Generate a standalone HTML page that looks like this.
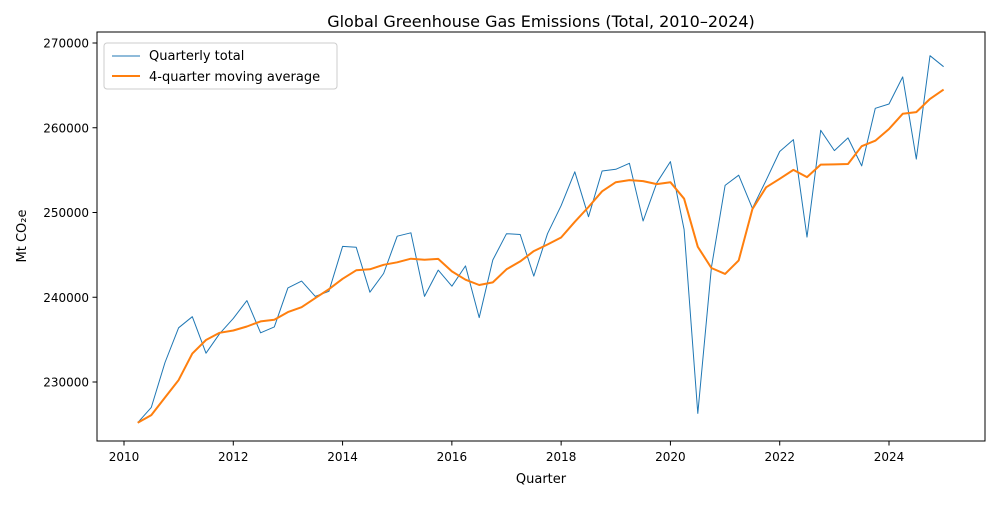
<!DOCTYPE html>
<html><head><meta charset="utf-8">
<style>
body{margin:0;background:#fff;}
svg text{font-family:"DejaVu Sans","Liberation Sans",sans-serif;fill:#000;}
</style></head>
<body>
<svg id="chart" width="1000" height="500" xmlns="http://www.w3.org/2000/svg">
<rect x="0" y="0" width="1000" height="500" fill="#fff"/>
<text x="541" y="27" font-size="16" text-anchor="middle">Global Greenhouse Gas Emissions (Total, 2010–2024)</text>
<g id="xticks"></g>
<g id="yticks"></g>
<g id="series"></g>
<rect x="97" y="32" width="888" height="409" fill="none" stroke="#000" stroke-width="1"/>
<text x="541" y="483" font-size="13" text-anchor="middle">Quarter</text>
<text x="26" y="236" font-size="13" text-anchor="middle" transform="rotate(-90 26 236)">Mt CO₂e</text>
<g>
<rect x="104" y="43" width="233" height="46" rx="3" fill="#fff" fill-opacity="0.8" stroke="#ccc"/>
<g>
<line x1="112" y1="56" x2="140" y2="56" stroke="#1f77b4" stroke-width="1"/>
<text x="149" y="60" font-size="13">Quarterly total</text></g>
<g>
<line x1="112" y1="76" x2="140" y2="76" stroke="#ff7f0e" stroke-width="2"/>
<text x="149" y="81" font-size="13">4-quarter moving average</text></g>
</g>
</svg>
<script>
const startYear = 2010.25;
const quarterly = [225200,227000,232300,236400,237700,233400,235700,237500,239600,235800,236500,241100,241900,240100,240700,246000,245900,240600,242800,247200,247600,240100,243200,241300,243700,237600,244400,247500,247400,242500,247500,250800,254800,249500,254900,255100,255800,249000,253500,256000,248000,226300,243500,253200,254400,250500,253800,257200,258600,247100,259700,257300,258800,255500,262300,262800,266000,256300,268500,267200];
const xTickLabels = [2010,2012,2014,2016,2018,2020,2022,2024];
const yTickLabels = [230000,240000,250000,260000,270000];

const NS="http://www.w3.org/2000/svg";
function X(t){return 124+(t-2010)*765/14;}
function Y(v){return 43+(270000-v)/10000*84.75;}
function mk(tag,attrs,parent){const e=document.createElementNS(NS,tag);for(const k in attrs)e.setAttribute(k,attrs[k]);parent.appendChild(e);return e;}

const xg=document.getElementById('xticks');
xTickLabels.forEach(t=>{
  const l=mk('line',{x1:X(t),x2:X(t),y1:441,y2:445.5,stroke:'#000'},xg);
  
  
  const tx=mk('text',{x:X(t),y:461,'font-size':12,'text-anchor':'middle'},xg);
  tx.textContent=t;
  
  
});
const yg=document.getElementById('yticks');
yTickLabels.forEach(v=>{
  const l=mk('line',{x1:92.5,x2:97,y1:Y(v),y2:Y(v),stroke:'#000'},yg);
  
  
  const tx=mk('text',{x:89,y:Y(v)+4.5,'font-size':12,'text-anchor':'end'},yg);
  tx.textContent=v;
  
  
});

const ma=quarterly.map((v,i)=>{const s=quarterly.slice(Math.max(0,i-3),i+1);return s.reduce((a,b)=>a+b,0)/s.length;});
const sg=document.getElementById('series');
function pts(arr){return arr.map((v,i)=>X(startYear+i*0.25).toFixed(1)+','+Y(v).toFixed(1)).join(' ');}
const p1=mk('polyline',{points:pts(quarterly),fill:'none',stroke:'#1f77b4','stroke-width':1,'stroke-linejoin':'round'},sg);


const p2=mk('polyline',{points:pts(ma),fill:'none',stroke:'#ff7f0e','stroke-width':2,'stroke-linejoin':'round'},sg);


</script>
</body></html>
